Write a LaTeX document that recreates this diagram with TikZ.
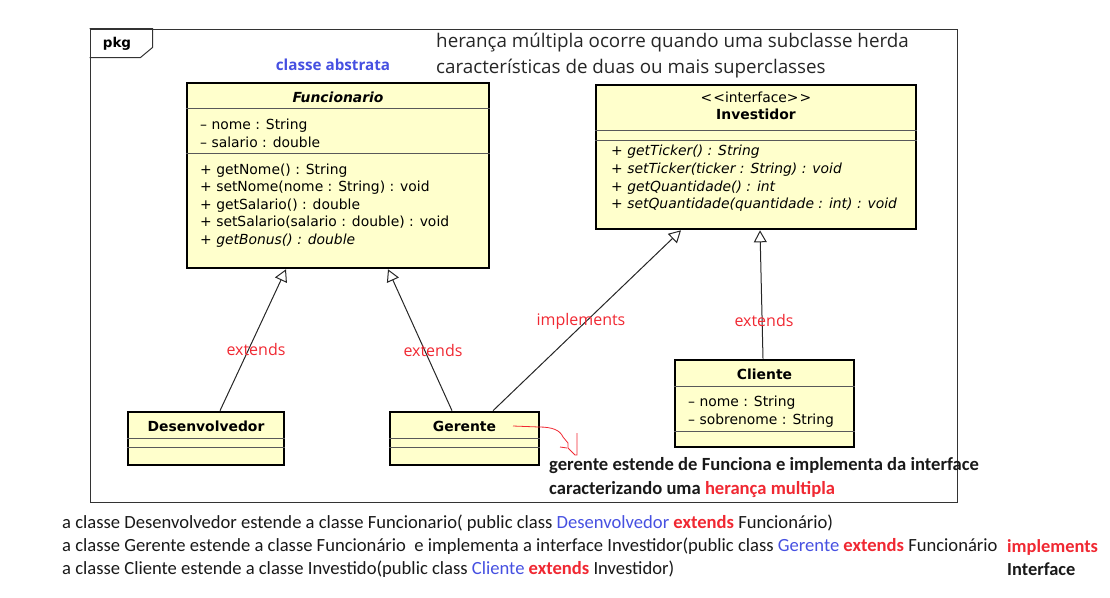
\documentclass[tikz,border=0pt]{standalone}
\usepackage{fontspec}
\setmainfont{DejaVu Sans}
\newfontfamily\notefont{Carlito}
\newfontfamily\labelfont{Open Sans}
\usetikzlibrary{arrows.meta, positioning, calc}
\definecolor{umlyellow}{RGB}{255,255,204}
\definecolor{tagred}{RGB}{240,40,50}
\definecolor{clsblue}{RGB}{70,80,225}
\newcommand{\umlfont}{\fontsize{13.9}{17.6}\selectfont}
\newcommand{\clsname}[1]{\textcolor{clsblue}{#1}}
\newcommand{\kwred}[1]{\textcolor{tagred}{\bfseries #1}}
\tikzset{
        umlclass/.style={draw, line width=2.6pt, fill=umlyellow, inner sep=0pt},
        divider/.style={draw=black!65, line width=0.9pt},
        members/.style={anchor=west, align=left, inner sep=0pt, font=\umlfont},
        title/.style={inner sep=0pt, font=\umlfont\bfseries},
        extends/.style={-{Triangle[open, length=12pt, width=13pt]}, line width=1pt, draw=black!85},
        tag/.style={text=tagred, inner sep=0pt, font=\labelfont\fontsize{16}{16}\selectfont},
        note/.style={anchor=west, align=left, inner sep=0pt, text=black!90, font=\notefont\fontsize{18.6}{23}\selectfont}
    }

\begin{document}
\begin{tikzpicture}[x=1pt, y=-1pt]
    \useasboundingbox (0,0) rectangle (1110,597);

    % package frame
    \node[draw=black!80, line width=1pt, minimum width=867pt, minimum height=473pt, inner sep=0pt] (pkg) at (523.5,265.5) {};
    \draw[black!80, line width=1pt] (pkg.north west) -- ++(63,0) -- ++(0,19) -- ++(-12,10) -- ++(-51,0);
    \node[inner sep=0pt, font=\fontsize{13.5}{13.5}\selectfont\bfseries] (pkgname) at (117,44) {pkg};

    % classes
    \node[umlclass, minimum width=302pt, minimum height=185pt] (func) at (338,175.5) {};
    \node[umlclass, minimum width=320pt, minimum height=144pt] (inv) at (756,157) {};
    \node[umlclass, minimum width=156pt, minimum height=53pt] (desen) at (206,438.5) {};
    \node[umlclass, minimum width=149pt, minimum height=53pt] (ger) at (464.5,438.5) {};
    \node[umlclass, minimum width=179pt, minimum height=87pt] (cli) at (764.5,403.5) {};

    % compartments
    \foreach \cl/\gap in {func/27, func/72, inv/46.5, inv/57, desen/28, desen/37, ger/28, ger/37, cli/28, cli/73}
        \draw[divider] ([yshift=-\gap pt]\cl.north west) -- ([yshift=-\gap pt]\cl.north east);

    % Funcionario
    \node[title, font=\umlfont\bfseries\itshape] (functitle) at (338,97) {Funcionario};
    \node[members] (funcattr) at (200,133.5) {-- nome : String\\-- salario : double};
    \node[members] (funcops) at (200,205.5) {+ getNome() : String\\+ setNome(nome : String) : void\\+ getSalario() : double\\+ setSalario(salario : double) : void\\\textit{+ getBonus() : double}};

    % Investidor
    \node[inner sep=0pt, font=\umlfont] (stereo) at (756,97) {<\kern1pt<interface>\kern1pt>};
    \node[title] (invtitle) at (756,114) {Investidor};
    \node[members, font=\umlfont\itshape] (invops) at (611,178.5) {+ getTicker() : String\\+ setTicker(ticker : String) : void\\+ getQuantidade() : int\\+ setQuantidade(quantidade : int) : void};

    % subclasses
    \node[title] (desentitle) at (206,426) {Desenvolvedor};
    \node[title] (gertitle) at (464.5,426) {Gerente};
    \node[title] (clititle) at (764.5,374) {Cliente};
    \node[members] (cliattr) at (688,411.5) {-- nome : String\\-- sobrenome : String};

    % connections
    \draw[extends] ([xshift=14pt]desen.north) -- ([xshift=-52pt]func.south);
    \draw[extends] ([xshift=-12.5pt]ger.north) -- ([xshift=50pt]func.south);
    \draw[extends] ([xshift=28.5pt]ger.north) -- ([xshift=-75pt]inv.south);
    \draw[extends] ([xshift=-1.5pt]cli.north) -- ([xshift=4pt]inv.south);

    \node[tag] (tagdesen) at (256,349) {extends};
    \node[tag] (tagger) at (433,350) {extends};
    \node[tag] (tagimpl) at (581,321) {implements};
    \node[tag] (tagcli) at (764,320) {extends};

    % notes
    \node[text=clsblue, inner sep=0pt, font=\labelfont\bfseries\fontsize{15.2}{15}\selectfont] (abstrata) at (333,65) {classe abstrata};
    \node[anchor=west, align=left, inner sep=0pt, text=black!85, font=\labelfont\fontsize{18.8}{26}\selectfont] (heranca) at (436,56) {herança múltipla ocorre quando uma subclasse herda\\características de duas ou mais superclasses};

    \draw[tagred, line width=0.8pt] (513,426) -- (539,427) .. controls (552,427) and (560,430) .. (563,437) -- (568,443) -- (568,448) -- (575,455) -- (577,455) -- (577,433);
    \draw[tagred, line width=0.8pt] (560,447) -- (567,448);
    \node[note, font=\notefont\bfseries\fontsize{18.6}{24}\selectfont] (gernote) at (549,478) {gerente estende de Funciona e implementa da interface\\caracterizando uma \textcolor{tagred}{herança multipla}};

    \node[note] (linedesen) at (62,523) {a classe Desenvolvedor estende a classe Funcionario( public class \clsname{Desenvolvedor} \kwred{extends} Funcionário)};
    \node[note] (lineger) at (62,546) {a classe Gerente estende a classe Funcionário\ \ e implementa a interface Investidor(public class \clsname{Gerente} \kwred{extends} Funcionário};
    \node[note] (linecli) at (62,569) {a classe Cliente estende a classe Investido(public class \clsname{Cliente} \kwred{extends} Investidor)};
    \node[note, font=\notefont\bfseries\fontsize{18.4}{23}\selectfont] (implnote) at (1007,557.5) {\textcolor{tagred}{implements}\\Interface};
\end{tikzpicture}
\end{document}
